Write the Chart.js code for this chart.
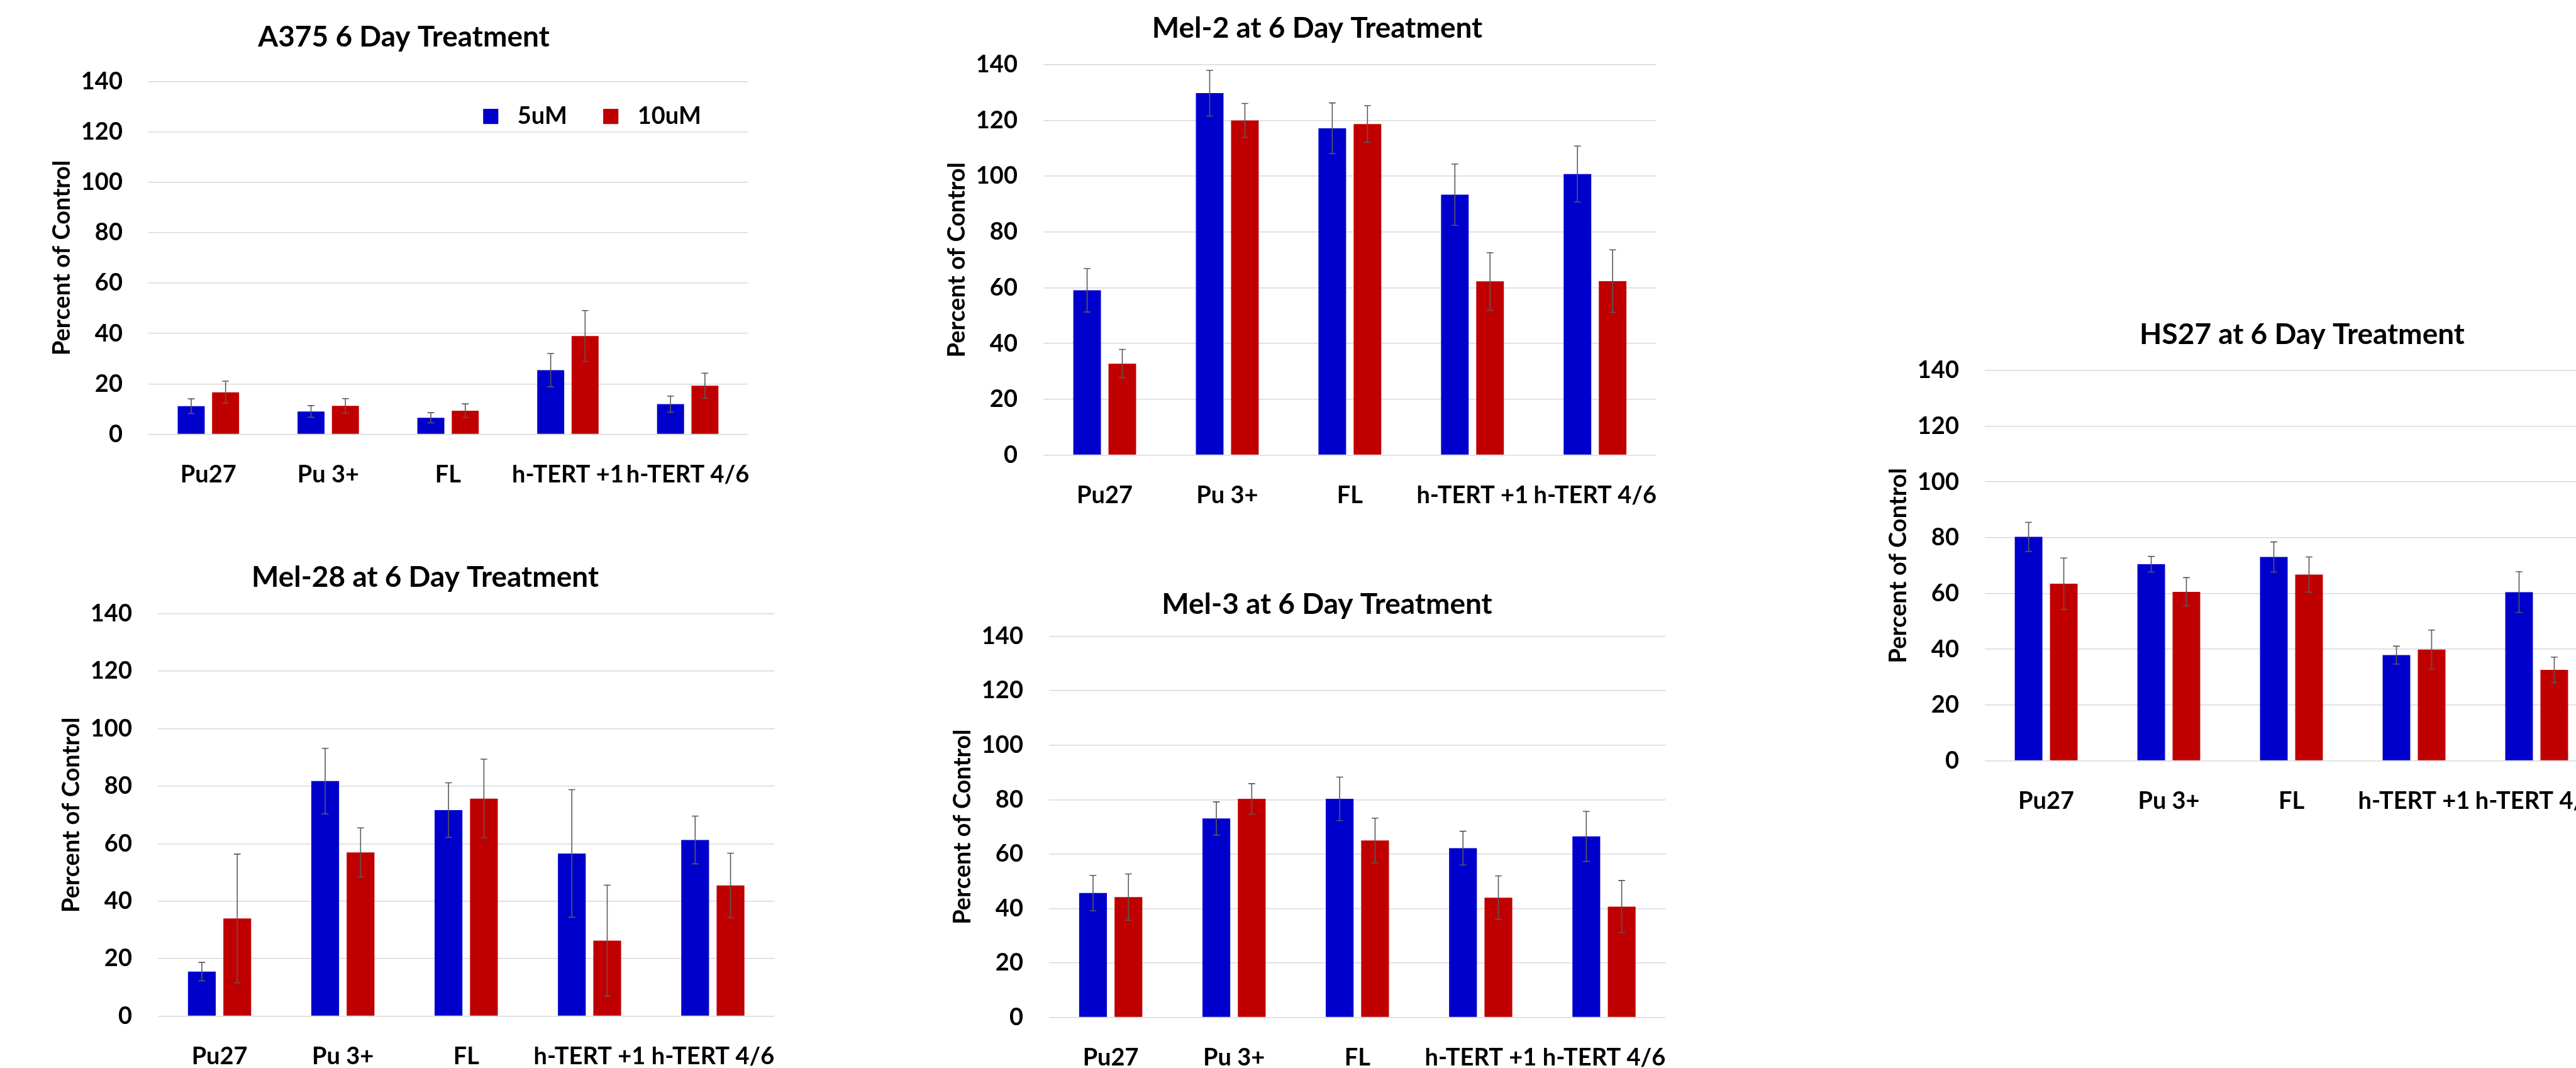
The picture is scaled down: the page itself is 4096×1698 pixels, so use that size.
<!DOCTYPE html>
<html>
<head>
<meta charset="utf-8">
<script src="https://cdn.jsdelivr.net/npm/chart.js@4.4.1/dist/chart.umd.min.js"></script>
<style>
  html, body { margin: 0; padding: 0; background: #fff; overflow: hidden; width: 4096px; height: 1698px; position: relative; }
  canvas { position: absolute; }
</style>
</head>
<body>
<script>
// categories and series shared by every panel
const categories = ['Pu27', 'Pu 3+', 'FL', 'h-TERT +1', 'h-TERT 4/6'];
const seriesNames = ['5uM', '10uM'];
const yMin = 0, yMax = 140, yStep = 20;

// values (percent of control) and their error bars
const a375_5uM = [11.2, 9.1, 6.6, 25.5, 12.0];
const a375_10uM = [16.7, 11.3, 9.4, 39.0, 19.3];
const a375_err5 = [2.9, 2.3, 2.0, 6.6, 3.2];
const a375_err10 = [4.4, 2.9, 2.7, 10.1, 5.0];

const mel2_5uM = [59.1, 129.8, 117.2, 93.4, 100.8];
const mel2_10uM = [32.8, 120.0, 118.7, 62.3, 62.4];
const mel2_err5 = [7.8, 8.2, 9.1, 11.0, 10.0];
const mel2_err10 = [5.1, 6.1, 6.6, 10.3, 11.2];

const hs27_5uM = [80.3, 70.5, 73.1, 37.9, 60.5];
const hs27_10uM = [63.5, 60.6, 66.8, 39.9, 32.6];
const hs27_err5 = [5.2, 2.8, 5.4, 3.2, 7.3];
const hs27_err10 = [9.2, 5.1, 6.3, 7.0, 4.6];

const mel28_5uM = [15.5, 81.8, 71.7, 56.6, 61.3];
const mel28_10uM = [34.0, 57.0, 75.7, 26.3, 45.5];
const mel28_err5 = [3.2, 11.4, 9.5, 22.2, 8.3];
const mel28_err10 = [22.4, 8.5, 13.7, 19.3, 11.2];

const mel3_5uM = [45.7, 73.1, 80.3, 62.2, 66.5];
const mel3_10uM = [44.2, 80.3, 65.0, 44.0, 40.7];
const mel3_err5 = [6.5, 6.1, 8.0, 6.2, 9.2];
const mel3_err10 = [8.5, 5.6, 8.2, 8.0, 9.6];

// layout in reference pixels (4580 wide), scaled down to the window
const S = 4096 / 4580;
const panels = [
  { title: 'A375 6 Day Treatment', v5: a375_5uM, v10: a375_10uM, e5: a375_err5, e10: a375_err10,
    plot: [264, 145, 1362, 772], titleX: 718, titleY: 67, legend: [859, 207] },
  { title: 'Mel-2 at 6 Day Treatment', v5: mel2_5uM, v10: mel2_10uM, e5: mel2_err5, e10: mel2_err10,
    plot: [1855, 115, 2945, 809], titleX: 2342, titleY: 51 },
  { title: 'HS27 at 6 Day Treatment', v5: hs27_5uM, v10: hs27_10uM, e5: hs27_err5, e10: hs27_err10,
    plot: [3529, 659, 4619, 1353], titleX: 4093, titleY: 596 },
  { title: 'Mel-28 at 6 Day Treatment', v5: mel28_5uM, v10: mel28_10uM, e5: mel28_err5, e10: mel28_err10,
    plot: [281, 1091, 1377, 1807], titleX: 756, titleY: 1027 },
  { title: 'Mel-3 at 6 Day Treatment', v5: mel3_5uM, v10: mel3_10uM, e5: mel3_err5, e10: mel3_err10,
    plot: [1865, 1131, 2961, 1809], titleX: 2359, titleY: 1075 },
];

const BLUE = '#0000CC', RED = '#C00000';
const FONT = 'Lato';
const F_TITLE = 46, F_TICK = 38;
const YW = 198, XH = 110, TOP_PAD = 10;

// error bars drawn from each dataset's "errors" array through the y scale
const errorBars = {
  id: 'errorBars',
  afterDatasetsDraw(chart) {
    const { ctx } = chart;
    const y = chart.scales.y;
    const cap = 6 * S;
    ctx.save();
    ctx.strokeStyle = '#595959';
    ctx.lineWidth = 1.6;
    chart.data.datasets.forEach((ds, i) => {
      chart.getDatasetMeta(i).data.forEach((bar, j) => {
        const v = ds.data[j], e = ds.errors[j];
        const yt = y.getPixelForValue(v + e), yb = y.getPixelForValue(v - e);
        ctx.beginPath();
        ctx.moveTo(bar.x, yt); ctx.lineTo(bar.x, yb);
        ctx.moveTo(bar.x - cap, yt); ctx.lineTo(bar.x + cap, yt);
        ctx.moveTo(bar.x - cap, yb); ctx.lineTo(bar.x + cap, yb);
        ctx.stroke();
      });
    });
    ctx.restore();
  }
};

// legend row sitting inside the plot (only the first panel has one)
const plotLegend = {
  id: 'plotLegend',
  afterDraw(chart, args, opts) {
    if (!opts.at) return;
    const { ctx } = chart;
    const box = 27 * S, textGap = 34 * S, itemGap = 64 * S;
    let [x, y] = opts.at;
    ctx.save();
    ctx.font = `bold ${F_TICK}px ${FONT}`;
    ctx.textBaseline = 'middle';
    ctx.textAlign = 'left';
    chart.data.datasets.forEach(ds => {
      ctx.fillStyle = ds.backgroundColor;
      ctx.fillRect(x, y - box / 2, box, box);
      x += box + textGap;
      ctx.fillStyle = '#000';
      ctx.fillText(ds.label, x, y);
      x += ctx.measureText(ds.label).width + itemGap;
    });
    ctx.restore();
  }
};

function drawPanel(p) {
  const [l, t, r, b] = p.plot;
  const rw = 2 * p.titleX - l - r + YW;          // right spacer that centres the title
  const padBottom = (t - p.titleY) * S - 0.6 * F_TITLE;
  const topH = TOP_PAD + 1.2 * F_TITLE + padBottom;
  const left = Math.round((l - YW) * S), top = Math.round(t * S - topH);
  const width = Math.round((r + rw) * S) - left;
  const height = Math.round((b + XH) * S) - top;

  const canvas = document.createElement('canvas');
  canvas.width = width; canvas.height = height;
  canvas.style.left = left + 'px'; canvas.style.top = top + 'px';
  canvas.style.width = width + 'px'; canvas.style.height = height + 'px';
  document.body.appendChild(canvas);

  const tickFont = { family: FONT, size: F_TICK, weight: 'bold' };
  new Chart(canvas.getContext('2d'), {
    type: 'bar',
    data: {
      labels: categories,
      datasets: [
        { label: seriesNames[0], data: p.v5, errors: p.e5, backgroundColor: BLUE },
        { label: seriesNames[1], data: p.v10, errors: p.e10, backgroundColor: RED },
      ],
    },
    options: {
      responsive: false,
      animation: false,
      devicePixelRatio: 1,
      categoryPercentage: 0.574,
      barPercentage: 0.785,
      layout: { padding: 0 },
      plugins: {
        legend: { display: false },
        tooltip: { enabled: false },
        title: {
          display: true,
          text: p.title,
          color: '#000',
          font: { family: FONT, size: F_TITLE, weight: 'bold' },
          padding: { top: TOP_PAD, bottom: padBottom },
        },
        plotLegend: { at: p.legend ? [p.legend[0] * S - left, p.legend[1] * S - top] : null },
      },
      scales: {
        x: {
          grid: { display: false },
          border: { display: false },
          ticks: { color: '#000', font: tickFont, padding: 33, autoSkip: false, maxRotation: 0, minRotation: 0 },
          afterFit: s => { s.height = XH * S; },
        },
        y: {
          min: yMin, max: yMax,
          grid: { color: '#d9d9d9', lineWidth: 1.6, drawTicks: false },
          border: { display: false },
          ticks: { stepSize: yStep, color: '#000', font: tickFont, padding: 46 * S },
          title: {
            display: true, text: 'Percent of Control', color: '#000',
            font: { family: FONT, size: F_TICK, weight: 'bold' },
            padding: { top: 45 * S - 0.6 * F_TICK, bottom: 0 },
          },
          afterFit: s => { s.width = YW * S; },
        },
        yR: {
          position: 'right',
          display: rw > 0,
          grid: { display: false },
          border: { display: false },
          ticks: { display: false },
          afterFit: s => { s.width = rw * S; },
        },
      },
    },
    plugins: [errorBars, plotLegend],
  });
}

document.fonts.load(`bold ${F_TICK}px ${FONT}`).then(() => panels.forEach(drawPanel));
</script>
</body>
</html>
